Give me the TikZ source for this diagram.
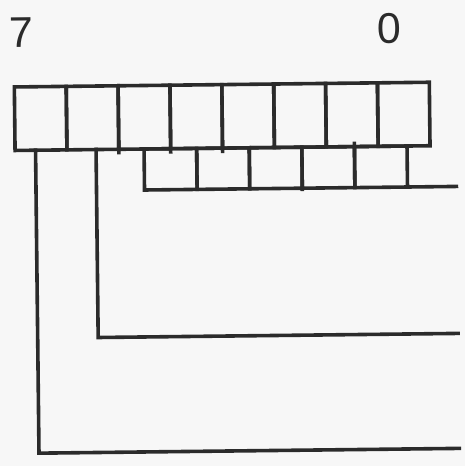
\documentclass[tikz,border=0pt]{standalone}
\usepackage{fontspec}
\setmainfont{Liberation Sans}
\definecolor{ink}{HTML}{2B2B2B}
\definecolor{paper}{HTML}{F7F7F7}
\begin{document}
\begin{tikzpicture}[x=1pt,y=-1pt,
  ln/.style={draw=ink,line width=3.6pt,line cap=rect,line join=miter},
  topcell/.style={ln,rectangle,minimum width=51.875pt,minimum height=63.5pt,inner sep=0pt,outer sep=0pt},
  lowcell/.style={ln,rectangle,minimum width=52.6pt,minimum height=41pt,inner sep=0pt,outer sep=0pt},
  tick/.style={draw=ink,line width=3.6pt},
  digit/.style={text=ink,font=\fontsize{43}{43}\selectfont,inner sep=0pt}]
\fill[paper] (0,0) rectangle (465,466);
\useasboundingbox (0,0) rectangle (465,466);
\begin{scope}[rotate around={0.65:(232,233)},transform shape]
  \node[digit] (b7) at (24,30) {7};
  \node[digit] (b0) at (392,30) {0};
  % top row of eight cells
  \foreach \i in {0,...,7}{
    \node[topcell] (t\i) at ({16+51.875*(\i+0.5)},116.25) {};
  }
  % lower row of five cells
  \foreach \j in {0,...,4}{
    \node[lowcell] (l\j) at ({145+52.6*(\j+0.5)},168.5) {};
  }
  % connector end points
  \coordinate (a1) at (36.5,148);
  \coordinate (a2) at (36.5,451);
  \coordinate (e1) at (457,451);
  \coordinate (m1) at (97,148);
  \coordinate (m2) at (97,336);
  \coordinate (e2) at (457,336);
  \coordinate (e3) at (457,189);
  \draw[ln] (a1) -- (a2) -- (e1);
  \draw[ln] (m1) -- (m2) -- (e2);
  \draw[ln] (l4.south east) -- (e3);
  % small overshoots of the dividers
  \draw[tick] (t2.south west) -- ++(0,5);
  \draw[tick] (t3.south west) -- ++(0,5);
  \draw[tick] (t4.south west) -- ++(0,5);
  \draw[tick] (l3.south west) -- ++(0,3);
  \draw[tick] (l4.north west) -- ++(0,-5);
\end{scope}
\end{tikzpicture}
\end{document}
